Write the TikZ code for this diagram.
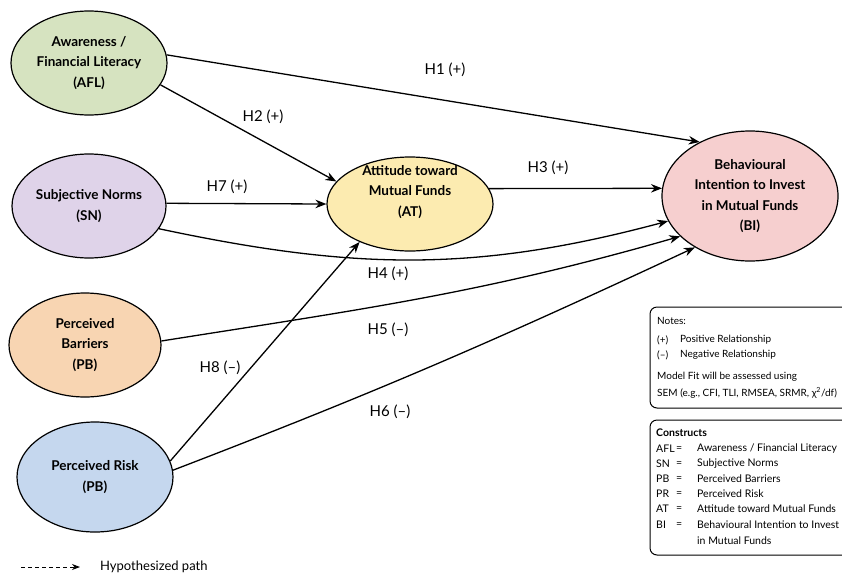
\documentclass[tikz,border=0pt]{standalone}
\usepackage{fontspec}
\setmainfont{Lato}
\usetikzlibrary{shapes.geometric,arrows.meta}

\definecolor{aflfill}{RGB}{214,227,192}
\definecolor{snfill}{RGB}{223,211,233}
\definecolor{pbfill}{RGB}{248,213,178}
\definecolor{prfill}{RGB}{197,215,238}
\definecolor{atfill}{RGB}{252,235,176}
\definecolor{bifill}{RGB}{246,207,207}

\begin{document}
\begin{tikzpicture}[x=1pt,y=1pt,
  construct/.style={ellipse,draw,line width=1.2pt,inner sep=0pt,align=center,
    font=\bfseries\fontsize{13.5}{20.5}\selectfont},
  cname/.style={align=center,inner sep=0pt,font=\bfseries\fontsize{13.5}{20.5}\selectfont},
  hyp/.style={line width=1.3pt,-{Stealth[length=11pt,width=8.5pt]}},
  lbl/.style={font=\fontsize{15}{17}\selectfont},
  note/.style={anchor=west,inner sep=0pt,font=\fontsize{10}{12}\selectfont},
  item/.style={note,font=\fontsize{10.5}{12}\selectfont},
  notebox/.style={draw,line width=1pt,rounded corners=7pt}]

\clip (0,0) rectangle (842,-576);

\node[construct,fill=aflfill,minimum width=156pt,minimum height=104pt] (afl) at (89,-63)
  {Awareness /\\Financial Literacy\\(AFL)};
\node[construct,fill=snfill,minimum width=154pt,minimum height=104pt] (sn) at (89,-206)
  {Subjective Norms\\(SN)};
\node[construct,fill=pbfill,minimum width=152pt,minimum height=104pt] (pb) at (85,-345)
  {Perceived\\Barriers\\(PB)};
\node[construct,fill=prfill,minimum width=156pt,minimum height=110pt] (pr) at (95,-477)
  {Perceived Risk\\(PB)};
\node[construct,fill=atfill,minimum width=166pt,minimum height=94pt] (at) at (410,-204) {};
\node[cname] (attext) at (410,-192) {Attitude toward\\Mutual Funds\\(AT)};
\node[construct,fill=bifill,minimum width=176pt,minimum height=130pt] (bi) at (750,-196)
  {Behavioural\\Intention to Invest\\in Mutual Funds\\(BI)};

\draw[hyp] (afl.6) -- (bi.133);
\draw[hyp] (afl.-17) -- (at.163);
\draw[hyp] (sn.2) -- (at.180);
\draw[hyp] (at.11) -- (bi.175);
\draw[hyp] (sn.-18) to[out=-12,in=195] (bi.197);
\draw[hyp] (pb.3) to[out=9,in=196] (bi.210);
\draw[hyp] (pr.12) -- (at.217);
\draw[hyp] (pr.5) to[out=21,in=205] (bi.223);

\node[lbl] (h1) at (445,-70) {H1 (+)};
\node[lbl] (h2) at (263,-117) {H2 (+)};
\node[lbl] (h7) at (227,-187) {H7 (+)};
\node[lbl] (h3) at (548,-168) {H3 (+)};
\node[lbl] (h4) at (388,-274) {H4 (+)};
\node[lbl] (h5) at (388,-330) {H5 (\textendash)};
\node[lbl] (h8) at (220,-368) {H8 (\textendash)};
\node[lbl] (h6) at (390,-412) {H6 (\textendash)};

% notes
\draw[notebox] (650,-307) rectangle (870,-408);
\node[note] (notes) at (657,-321) {Notes:};
\node[note] (pos) at (657,-340) {(+)};
\node[note] (posx) at (680,-340) {Positive Relationship};
\node[note] (neg) at (657,-355) {(\textendash)};
\node[note] (negx) at (680,-355) {Negative Relationship};
\node[note] (fit1) at (657,-377) {Model Fit will be assessed using};
\node[note] (fit2) at (657,-393) {SEM (e.g., CFI, TLI, RMSEA, SRMR, χ\textsuperscript{2}/df)};

% constructs
\draw[notebox] (650,-420) rectangle (870,-555);
\node[note,font=\bfseries\fontsize{10.5}{12}\selectfont] (cons) at (656,-433) {Constructs};
\foreach \ab/\full/\yy in {AFL/{Awareness / Financial Literacy}/449,
    SN/{Subjective Norms}/464, PB/{Perceived Barriers}/479, PR/{Perceived Risk}/494,
    AT/{Attitude toward Mutual Funds}/509, BI/{Behavioural Intention to Invest}/525}{
  \node[item] (ab\ab) at (656,-\yy) {\ab};
  \node[item] (eq\ab) at (676,-\yy) {=};
  \node[item] (full\ab) at (697,-\yy) {\full};
}
\node[item] (fullBI2) at (697,-541) {in Mutual Funds};

% legend
\coordinate (lega) at (21,-567);
\coordinate (legb) at (80,-567);
\draw[line width=0.9pt,dash pattern=on 4pt off 3pt,-{Stealth[length=8pt,width=6pt]}] (lega) -- (legb);
\node[note,font=\fontsize{13}{15}\selectfont] (legtxt) at (100,-567) {Hypothesized path};
\end{tikzpicture}
\end{document}
